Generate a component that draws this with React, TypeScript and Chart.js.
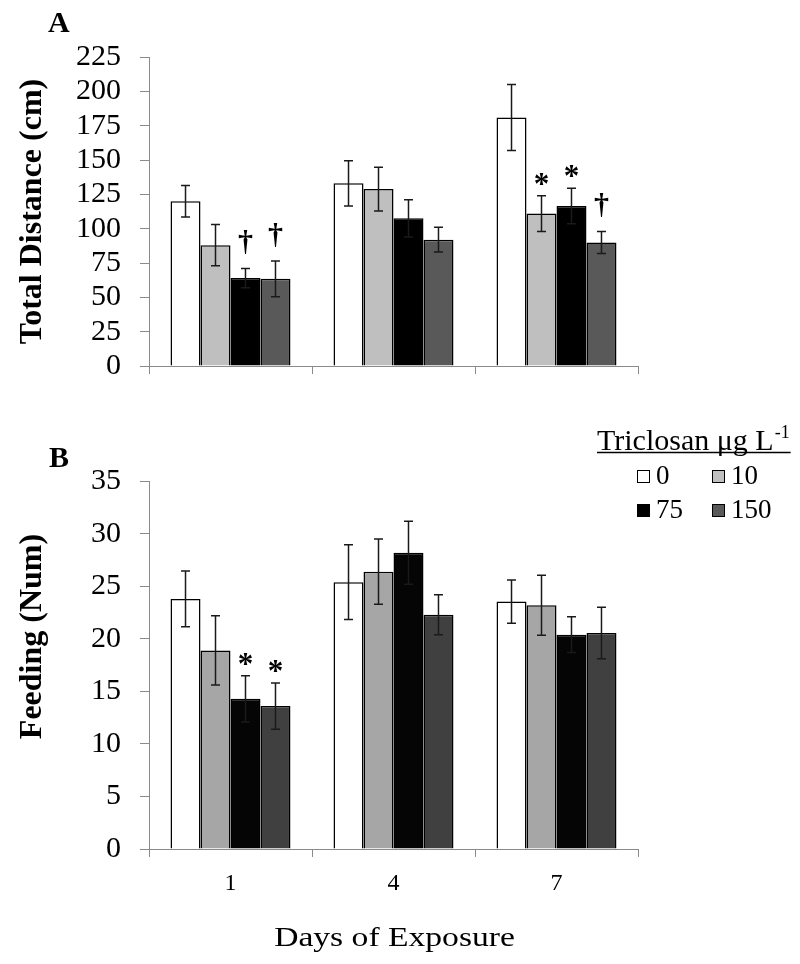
import React, { useEffect, useRef } from "react";
import { Chart, registerables } from "chart.js";

Chart.register(...registerables);

// ---------- data ----------
const days = ["1", "4", "7"];
const concentrations = ["0", "10", "75", "150"];

// Panel A: Total Distance (cm)
const distance0 = [120, 133, 181];
const distance10 = [88, 128.8, 111];
const distance75 = [64, 107.5, 116.5];
const distance150 = [63.5, 92, 90];
const distanceErr0 = [11.5, 16.5, 24];
const distanceErr10 = [15, 16, 13];
const distanceErr75 = [7, 13.5, 13];
const distanceErr150 = [13, 9, 8];
const distanceSig0 = ["", "", ""];
const distanceSig10 = ["", "", "*"];
const distanceSig75 = ["†", "", "*"];
const distanceSig150 = ["†", "", "†"];
const distanceMax = 225;
const distanceStep = 25;

// Panel B: Feeding (Num)
const feeding0 = [23.8, 25.4, 23.55];
const feeding10 = [18.9, 26.4, 23.2];
const feeding75 = [14.3, 28.2, 20.4];
const feeding150 = [13.6, 22.3, 20.55];
const feedingErr0 = [2.65, 3.55, 2.05];
const feedingErr10 = [3.3, 3.1, 2.85];
const feedingErr75 = [2.2, 3.0, 1.7];
const feedingErr150 = [2.2, 1.9, 2.45];
const feedingSig0 = ["", "", ""];
const feedingSig10 = ["", "", ""];
const feedingSig75 = ["*", "", ""];
const feedingSig150 = ["*", "", ""];
const feedingMax = 35;
const feedingStep = 5;

// ---------- styles ----------
const SERIF = '"Liberation Serif", "Times New Roman", Times, serif';
const colorsA = ["#ffffff", "#bfbfbf", "#000000", "#595959"];
const colorsB = ["#ffffff", "#a6a6a6", "#050505", "#404040"];
const AXIS_GRAY = "#8a8a8a";

const errorBarPlugin = {
  id: "errorBars",
  afterDatasetsDraw(chart: any) {
    const ctx = chart.ctx;
    const y = chart.scales.y;
    ctx.save();
    ctx.strokeStyle = "#1a1a1a";
    ctx.lineWidth = 1.5;
    chart.data.datasets.forEach((ds: any, i: number) => {
      const meta = chart.getDatasetMeta(i);
      meta.data.forEach((el: any, j: number) => {
        const v = ds.data[j];
        const e = ds.errors[j];
        const yt = y.getPixelForValue(v + e);
        const yb = y.getPixelForValue(v - e);
        const x = el.x;
        const w = 4.5;
        ctx.beginPath();
        ctx.moveTo(x, yt);
        ctx.lineTo(x, yb);
        ctx.moveTo(x - w, yt);
        ctx.lineTo(x + w, yt);
        ctx.moveTo(x - w, yb);
        ctx.lineTo(x + w, yb);
        ctx.stroke();
      });
    });
    ctx.restore();
  },
};

const sigPlugin = {
  id: "sigMarks",
  afterDatasetsDraw(chart: any) {
    const ctx = chart.ctx;
    const y = chart.scales.y;
    ctx.save();
    ctx.fillStyle = "#000";
    ctx.textAlign = "center";
    ctx.textBaseline = "alphabetic";
    chart.data.datasets.forEach((ds: any, i: number) => {
      const meta = chart.getDatasetMeta(i);
      meta.data.forEach((el: any, j: number) => {
        const s = ds.sig[j];
        if (!s) return;
        const cap = y.getPixelForValue(ds.data[j] + ds.errors[j]);
        if (s === "*") {
          ctx.font = `bold 31px ${SERIF}`;
          ctx.fillText(s, el.x, cap - 2);
        } else {
          ctx.font = `bold 30px ${SERIF}`;
          ctx.fillText(s, el.x, cap - 17);
        }
      });
    });
    ctx.restore();
  },
};

function buildDatasets(values: number[][], errors: number[][], sigs: string[][], colors: string[]) {
  return concentrations.map((c, i) => ({
    label: c,
    data: values[i],
    errors: errors[i],
    sig: sigs[i],
    backgroundColor: colors[i],
    borderColor: "#000",
    borderWidth: 1.5,
    categoryPercentage: 0.736,
    barPercentage: 1,
  }));
}

function makeConfig(p: {
  datasets: any[];
  yMax: number;
  yStep: number;
  plotTop: number;
  xAxisHeight: number;
  showXLabels: boolean;
  decor: (chart: any) => void;
}): any {
  return {
    type: "bar",
    data: { labels: days, datasets: p.datasets },
    options: {
      responsive: false,
      animation: false,
      devicePixelRatio: 1,
      layout: { padding: { left: 0, top: p.plotTop, right: 162, bottom: 0 } },
      plugins: {
        legend: { display: false },
        tooltip: { enabled: false },
        title: { display: false },
      },
      scales: {
        x: {
          type: "category",
          grid: {
            display: true,
            offset: true,
            drawOnChartArea: false,
            drawTicks: true,
            tickLength: 8,
            color: AXIS_GRAY,
          },
          border: { display: true, color: AXIS_GRAY, width: 1 },
          ticks: {
            display: p.showXLabels,
            autoSkip: false,
            color: "#000",
            font: { family: SERIF, size: 24 },
            padding: 12,
            maxRotation: 0,
          },
          afterFit: (scale: any) => {
            scale.height = p.xAxisHeight;
          },
        },
        y: {
          min: 0,
          max: p.yMax,
          grid: {
            display: true,
            drawOnChartArea: false,
            drawTicks: true,
            tickLength: 9,
            color: AXIS_GRAY,
          },
          border: { display: true, color: AXIS_GRAY, width: 1 },
          ticks: {
            stepSize: p.yStep,
            autoSkip: false,
            color: "#000",
            font: { family: SERIF, size: 30, lineHeight: 1 },
            padding: 19,
          },
          afterFit: (scale: any) => {
            scale.width = 149;
          },
        },
      },
    },
    plugins: [
      errorBarPlugin,
      sigPlugin,
      { id: "decor", afterDraw: (chart: any) => p.decor(chart) },
    ],
  };
}

function drawRotatedTitle(ctx: CanvasRenderingContext2D, text: string, x: number, y: number) {
  ctx.save();
  ctx.translate(x, y);
  ctx.rotate(-Math.PI / 2);
  ctx.font = `bold 32px ${SERIF}`;
  ctx.fillStyle = "#000";
  ctx.textAlign = "center";
  ctx.textBaseline = "middle";
  ctx.fillText(text, 0, 0);
  ctx.restore();
}

function drawPanelLetter(ctx: CanvasRenderingContext2D, text: string, x: number, baseline: number) {
  ctx.save();
  ctx.font = `bold 30px ${SERIF}`;
  ctx.fillStyle = "#000";
  ctx.textAlign = "left";
  ctx.textBaseline = "alphabetic";
  ctx.fillText(text, x, baseline);
  ctx.restore();
}

function decorA(chart: any) {
  const ctx = chart.ctx;
  drawPanelLetter(ctx, "A", 48, 32);
  drawRotatedTitle(ctx, "Total Distance (cm)", 33, 211.5);
}

function decorB(chart: any) {
  const ctx = chart.ctx;
  drawPanelLetter(ctx, "B", 49, 67);
  drawRotatedTitle(ctx, "Feeding (Num)", 33, 236.5);

  // x-axis title
  ctx.save();
  ctx.translate(394.5, 546);
  ctx.scale(1.2, 1);
  ctx.font = `28px ${SERIF}`;
  ctx.fillStyle = "#000";
  ctx.textAlign = "center";
  ctx.textBaseline = "alphabetic";
  ctx.fillText("Days of Exposure", 0, 0);
  ctx.restore();

  // legend
  ctx.save();
  ctx.fillStyle = "#000";
  ctx.textAlign = "left";
  ctx.textBaseline = "alphabetic";
  const tx = 597;
  const tb = 50;
  ctx.font = `30px ${SERIF}`;
  const main = "Triclosan μg L";
  ctx.fillText(main, tx, tb);
  const w1 = ctx.measureText(main).width;
  ctx.font = `18px ${SERIF}`;
  ctx.fillText("-1", tx + w1 + 1, tb - 12);
  const w2 = ctx.measureText("-1").width;
  ctx.strokeStyle = "#000";
  ctx.lineWidth = 1.5;
  ctx.beginPath();
  ctx.moveTo(tx, 52.5);
  ctx.lineTo(tx + w1 + 1 + w2 + 1, 52.5);
  ctx.stroke();

  const cols = [637, 712];
  const rows = [70, 104];
  const box = 13;
  chart.data.datasets.forEach((ds: any, i: number) => {
    const bx = cols[i % 2];
    const by = rows[Math.floor(i / 2)];
    ctx.fillStyle = colorsA[i];
    ctx.fillRect(bx, by, box, box);
    ctx.strokeStyle = "#000";
    ctx.lineWidth = 1;
    ctx.strokeRect(bx + 0.5, by + 0.5, box - 1, box - 1);
    ctx.fillStyle = "#000";
    ctx.font = `27px ${SERIF}`;
    ctx.textBaseline = "middle";
    ctx.fillText(ds.label, bx + box + 6, by + box / 2 + 0.5);
  });
  ctx.restore();
}

export default function App() {
  const refA = useRef<HTMLCanvasElement>(null);
  const refB = useRef<HTMLCanvasElement>(null);

  useEffect(() => {
    const chartA = new Chart(
      refA.current as HTMLCanvasElement,
      makeConfig({
        datasets: buildDatasets(
          [distance0, distance10, distance75, distance150],
          [distanceErr0, distanceErr10, distanceErr75, distanceErr150],
          [distanceSig0, distanceSig10, distanceSig75, distanceSig150],
          colorsA
        ),
        yMax: distanceMax,
        yStep: distanceStep,
        plotTop: 57,
        xAxisHeight: 12,
        showXLabels: false,
        decor: decorA,
      })
    );
    const chartB = new Chart(
      refB.current as HTMLCanvasElement,
      makeConfig({
        datasets: buildDatasets(
          [feeding0, feeding10, feeding75, feeding150],
          [feedingErr0, feedingErr10, feedingErr75, feedingErr150],
          [feedingSig0, feedingSig10, feedingSig75, feedingSig150],
          colorsB
        ),
        yMax: feedingMax,
        yStep: feedingStep,
        plotTop: 81.3,
        xAxisHeight: 115,
        showXLabels: true,
        decor: decorB,
      })
    );
    return () => {
      chartA.destroy();
      chartB.destroy();
    };
  }, []);

  return (
    <div
      style={{
        position: "absolute",
        left: 0,
        top: 0,
        width: 800,
        height: 964,
        background: "#ffffff",
        overflow: "hidden",
      }}
    >
      <canvas
        ref={refA}
        width={800}
        height={400}
        style={{ position: "absolute", left: 0, top: 0, width: 800, height: 400, display: "block" }}
      />
      <canvas
        ref={refB}
        width={800}
        height={564}
        style={{ position: "absolute", left: 0, top: 400, width: 800, height: 564, display: "block" }}
      />
    </div>
  );
}
